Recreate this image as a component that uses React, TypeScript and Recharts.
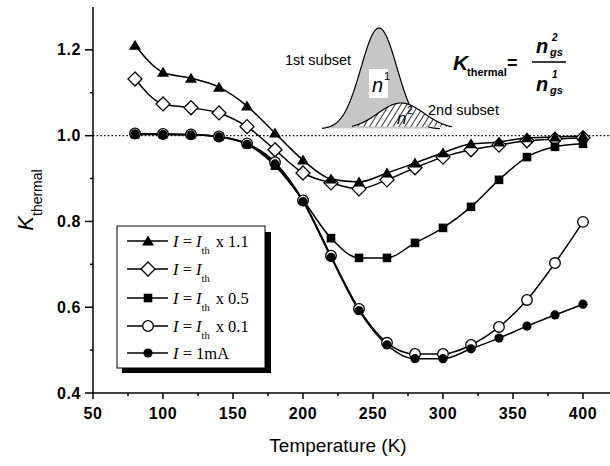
import React from 'react';
import { Line, LineChart, ReferenceLine, XAxis, YAxis } from 'recharts';

// temperatures (K)
const temps = [80, 100, 120, 140, 160, 180, 200, 220, 240, 260, 280, 300, 320, 340, 360, 380, 400];

// K_thermal per drive current
const ith11 = [1.211, 1.148, 1.134, 1.113, 1.069, 1.006, 0.943, 0.899, 0.892, 0.913, 0.936, 0.96, 0.981, 0.985, 0.995, 0.997, 0.999];
const ith10 = [1.132, 1.074, 1.065, 1.053, 1.021, 0.967, 0.913, 0.89, 0.876, 0.897, 0.925, 0.95, 0.967, 0.978, 0.988, 0.992, 0.995];
const ith05 = [1.003, 1.003, 1.002, 0.998, 0.98, 0.93, 0.85, 0.761, 0.715, 0.715, 0.75, 0.785, 0.834, 0.897, 0.95, 0.974, 0.981];
const ith01 = [1.005, 1.004, 1.003, 0.998, 0.982, 0.938, 0.849, 0.72, 0.596, 0.517, 0.491, 0.491, 0.512, 0.554, 0.617, 0.703, 0.799];
const ma1 = [1.004, 1.003, 1.002, 0.997, 0.98, 0.934, 0.846, 0.716, 0.592, 0.512, 0.48, 0.48, 0.503, 0.528, 0.556, 0.582, 0.607];

const xTicks = [50, 75, 100, 125, 150, 175, 200, 225, 250, 275, 300, 325, 350, 375, 400];
const yTicks = [0.4, 0.5, 0.6, 0.7, 0.8, 0.9, 1.0, 1.1, 1.2, 1.3];

const data = temps.map((t, i) => ({ t, a: ith11[i], b: ith10[i], c: ith05[i], d: ith01[i], e: ma1[i] }));

type Shape = 'triangle' | 'diamond' | 'square' | 'openCircle' | 'circle';

const legendItems: { shape: Shape; suffix: string; th: boolean }[] = [
	{ shape: 'triangle', suffix: 'x 1.1', th: true },
	{ shape: 'diamond', suffix: '', th: true },
	{ shape: 'square', suffix: 'x 0.5', th: true },
	{ shape: 'openCircle', suffix: 'x 0.1', th: true },
	{ shape: 'circle', suffix: '1mA', th: false }
];

const SANS = 'Liberation Sans, Arial, Helvetica, sans-serif';
const SERIF = 'Liberation Serif, Times New Roman, serif';

const Marker = ({ shape, cx, cy }: { shape: Shape; cx: number; cy: number }) => {
	if (cx == null || cy == null) return null;
	switch (shape) {
		case 'triangle':
			return <path d={`M${cx},${cy - 5.5} L${cx + 6},${cy + 4.5} L${cx - 6},${cy + 4.5} Z`} fill='#000' />;
		case 'diamond':
			return <path d={`M${cx},${cy - 7} L${cx + 7},${cy} L${cx},${cy + 7} L${cx - 7},${cy} Z`} fill='#fff' stroke='#000' strokeWidth={1.3} />;
		case 'square':
			return <rect x={cx - 4.3} y={cy - 4.3} width={8.6} height={8.6} fill='#000' />;
		case 'openCircle':
			return <circle cx={cx} cy={cy} r={5.3} fill='#fff' stroke='#000' strokeWidth={1.3} />;
		default:
			return <circle cx={cx} cy={cy} r={4.6} fill='#000' />;
	}
};

const dotFor = (shape: Shape) => (p: any) => (
	<Marker
		key={`${shape}-${p.index}`}
		shape={shape}
		cx={p.cx}
		cy={p.cy}
	/>
);

const isMajorX = (v: number) => v % 50 === 0;
const isMajorY = (v: number) => Math.round(v * 10) % 2 === 0;

const BottomTick = (props: any) => {
	const { x, y, payload } = props;
	const major = isMajorX(payload.value);
	return (
		<g>
			<line x1={x} y1={y} x2={x} y2={y + (major ? 6 : 3)} stroke='#000' strokeWidth={1.5} />
			{major && (
				<text x={x} y={y + 26} textAnchor='middle' fontFamily={SANS} fontWeight='bold' fontSize={16} letterSpacing={0.6} fill='#000'>
					{payload.value}
				</text>
			)}
		</g>
	);
};

const LeftTick = (props: any) => {
	const { x, y, payload } = props;
	const major = isMajorY(payload.value);
	if (payload.value > 1.25) return null;
	return (
		<g>
			<line x1={x - (major ? 8 : 3)} y1={y} x2={x} y2={y} stroke='#000' strokeWidth={1.5} />
			{major && (
				<text x={x - 12} y={y + 5.5} textAnchor='end' fontFamily={SANS} fontWeight='bold' fontSize={16} letterSpacing={0.6} fill='#000'>
					{payload.value.toFixed(1)}
				</text>
			)}
		</g>
	);
};

const TopTick = (props: any) => {
	const { x, y, payload } = props;
	const major = isMajorX(payload.value);
	return <line x1={x} y1={y} x2={x} y2={y + (major ? 8 : 5)} stroke='#000' strokeWidth={1.5} />;
};

const RightTick = (props: any) => {
	const { x, y, payload } = props;
	const major = isMajorY(payload.value);
	return <line x1={x} y1={y} x2={x - (major ? 7 : 4)} y2={y} stroke='#000' strokeWidth={1.5} />;
};

// schematic bell curve for the inset
const bell = (c: number, s: number, amp: number, base: number, x0: number, x1: number) => {
	const pts: string[] = [];
	for (let x = x0; x <= x1; x += 1) {
		const y = base - amp * Math.exp(-((x - c) * (x - c)) / (2 * s * s));
		pts.push(`${x},${y.toFixed(2)}`);
	}
	return pts;
};

const Inset = () => {
	const g1 = bell(379, 18, 101, 129, 322, 440);
	const g2 = bell(401, 23, 26, 129, 352, 452);
	return (
		<g>
			<defs>
				<pattern id='hatch' patternUnits='userSpaceOnUse' width={5} height={10} patternTransform='rotate(32)'>
					<rect width={5} height={10} fill='#fff' />
					<line x1={0.5} y1={0} x2={0.5} y2={10} stroke='#000' strokeWidth={0.8} />
				</pattern>
			</defs>
			<path d={`M${g1[0]} L${g1.join(' L')} Z`} fill='#c6c6c6' />
			<path d={`M${g1.join(' L')}`} fill='none' stroke='#000' strokeWidth={1.2} />
			<path d={`M${g2[0]} L${g2.join(' L')} Z`} fill='url(#hatch)' />
			<path d={`M${g2.join(' L')}`} fill='none' stroke='#000' strokeWidth={1.2} />
			<rect x={369} y={69} width={19} height={29} fill='#fff' />
			<text x={372} y={92} fontFamily={SANS} fontStyle='italic' fontSize={20} fill='#000'>n</text>
			<text x={384} y={80} fontFamily={SANS} fontSize={11} fill='#000'>1</text>
			<text x={397} y={124} fontFamily={SANS} fontStyle='italic' fontSize={17} fill='#000'>n</text>
			<text x={407} y={114} fontFamily={SANS} fontSize={10} fill='#000'>2</text>
			<text x={285} y={65} fontFamily={SANS} fontSize={14.5} fill='#000'>1st subset</text>
			<text x={428} y={115} fontFamily={SANS} fontSize={14.5} fill='#000'>2nd subset</text>

			<text x={453} y={70} fontFamily={SANS} fontStyle='italic' fontWeight='bold' fontSize={21} fill='#000'>K</text>
			<text x={467} y={76} fontFamily={SANS} fontWeight='bold' fontSize={11} fill='#000'>thermal</text>
			<text x={507} y={69} fontFamily={SANS} fontWeight='bold' fontSize={18} fill='#000'>=</text>
			<line x1={532} y1={62} x2={566} y2={62} stroke='#000' strokeWidth={1.5} />
			<text x={536} y={53} fontFamily={SANS} fontStyle='italic' fontWeight='bold' fontSize={20} fill='#000'>n</text>
			<text x={552} y={41} fontFamily={SANS} fontStyle='italic' fontWeight='bold' fontSize={10} fill='#000'>2</text>
			<text x={550} y={56} fontFamily={SANS} fontStyle='italic' fontWeight='bold' fontSize={11} fill='#000'>gs</text>
			<text x={536} y={91} fontFamily={SANS} fontStyle='italic' fontWeight='bold' fontSize={20} fill='#000'>n</text>
			<text x={552} y={78} fontFamily={SANS} fontStyle='italic' fontWeight='bold' fontSize={10} fill='#000'>1</text>
			<text x={550} y={94} fontFamily={SANS} fontStyle='italic' fontWeight='bold' fontSize={11} fill='#000'>gs</text>
		</g>
	);
};

const LegendBox = () => {
	const rowY = [241, 269, 298, 326, 353];
	return (
		<g>
			<rect x={122} y={232} width={149} height={141} fill='#000' />
			<rect x={117} y={226} width={148} height={142} fill='#fff' stroke='#000' strokeWidth={1} />
			{legendItems.map((it, i) => {
				const cy = rowY[i];
				return (
					<g key={it.shape}>
						<line x1={127} y1={cy} x2={168} y2={cy} stroke='#000' strokeWidth={1.5} />
						<Marker shape={it.shape} cx={148} cy={cy} />
						<text x={173} y={cy + 6} fontFamily={SERIF} fontSize={16.5} fill='#000'>
							<tspan fontStyle='italic'>I</tspan>
							<tspan> = </tspan>
							{it.th ? (
								<>
									<tspan fontStyle='italic'>I</tspan>
									<tspan fontSize={10.5} dy={7}>th</tspan>
									<tspan dy={-7} dx={6}>{it.suffix}</tspan>
								</>
							) : (
								<tspan>{it.suffix}</tspan>
							)}
						</text>
					</g>
				);
			})}
		</g>
	);
};

export default function App() {
	return (
		<div style={{ position: 'fixed', left: 0, top: 0, width: 610, height: 466, overflow: 'hidden', background: '#fff' }}>
			<div style={{ position: 'absolute', left: 0, top: 0 }}>
				<LineChart width={612} height={466} data={data} margin={{ top: 7, right: 1, bottom: 0, left: 0 }}>
					<XAxis dataKey='t' type='number' domain={[50, 420]} ticks={xTicks} interval={0} height={73} tickSize={0} tickMargin={0} tickLine={false} axisLine={{ stroke: '#000', strokeWidth: 1.5 }} tick={<BottomTick />} allowDataOverflow />
					<XAxis xAxisId='top' orientation='top' dataKey='t' type='number' domain={[50, 420]} ticks={xTicks} interval={0} height={0} tickSize={0} tickMargin={0} tickLine={false} axisLine={{ stroke: '#000', strokeWidth: 1.5 }} tick={<TopTick />} allowDataOverflow />
					<YAxis type='number' domain={[0.4, 1.3]} ticks={yTicks} interval={0} width={93} tickSize={0} tickMargin={0} tickLine={false} axisLine={{ stroke: '#000', strokeWidth: 1.5 }} tick={<LeftTick />} allowDataOverflow />
					<YAxis yAxisId='right' orientation='right' type='number' domain={[0.4, 1.3]} ticks={yTicks} interval={0} width={0} tickSize={0} tickMargin={0} tickLine={false} axisLine={{ stroke: '#000', strokeWidth: 1.5 }} tick={<RightTick />} allowDataOverflow />
					<ReferenceLine y={1} stroke='#000' strokeWidth={1.3} strokeDasharray='1.5 2.2' />
					<Line type='monotone' dataKey='b' stroke='#000' strokeWidth={1.5} dot={dotFor('diamond')} isAnimationActive={false} />
					<Line type='monotone' dataKey='a' stroke='#000' strokeWidth={1.5} dot={dotFor('triangle')} isAnimationActive={false} />
					<Line type='monotone' dataKey='c' stroke='#000' strokeWidth={1.5} dot={dotFor('square')} isAnimationActive={false} />
					<Line type='monotone' dataKey='d' stroke='#000' strokeWidth={1.5} dot={dotFor('openCircle')} isAnimationActive={false} />
					<Line type='monotone' dataKey='e' stroke='#000' strokeWidth={1.5} dot={dotFor('circle')} isAnimationActive={false} />
				</LineChart>
			</div>
			<svg width={610} height={466} style={{ position: 'absolute', left: 0, top: 0, pointerEvents: 'none' }}>
				<Inset />
				<LegendBox />
				<text transform='translate(33,200) rotate(-90)' textAnchor='middle' fontFamily={SANS} fill='#000'>
					<tspan fontStyle='italic' fontSize={22}>K</tspan>
					<tspan fontSize={14} dy={9}>thermal</tspan>
				</text>
				<text x={338} y={452} textAnchor='middle' fontFamily={SANS} fontSize={19} fill='#000'>
					Temperature (K)
				</text>
			</svg>
		</div>
	);
}
